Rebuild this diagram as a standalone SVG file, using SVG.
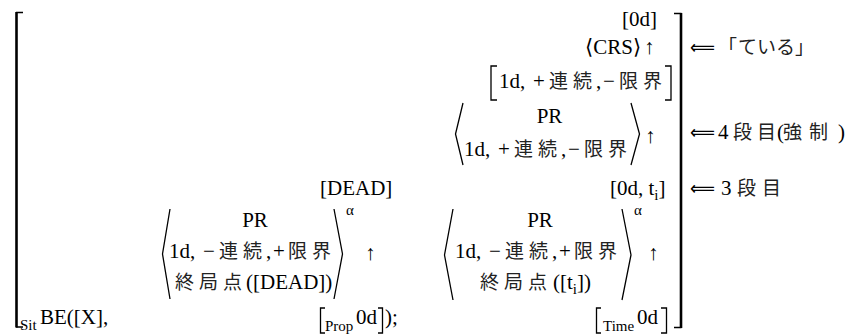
<svg xmlns="http://www.w3.org/2000/svg" width="852" height="336" viewBox="0 0 852 336">
<style>
.t{font-family:"Liberation Serif","DejaVu Serif",serif;font-size:21px;fill:#000}
.j{font-family:"Noto Sans CJK JP","Noto Sans CJK SC",sans-serif;font-size:19px;fill:#222}
.s{font-size:15px}
.a{font-family:"DejaVu Sans",sans-serif;font-size:20px;fill:#000}
.d{fill:none;stroke:#000;stroke-width:1.3}
.b{fill:none;stroke:#000;stroke-width:2.6}
.k{fill:none;stroke:#000;stroke-width:1.4}
</style>
<rect width="852" height="336" fill="#fff"/>

<g id="outer-brackets">
<path class="b" d="M16.5,12 V327.5"/>
<path class="k" d="M16,12.5 H23 M16,327 H23"/>
<path class="b" d="M681,13 V328"/>
<path class="k" d="M674,13.5 H681.5 M674,327.5 H681.5"/>
</g>

<g id="row-0d">
<text class="t" x="622" y="26">[0d]</text>
</g>

<g id="row-crs">
<text class="t" x="585" y="54">⟨CRS⟩</text>
<text class="t" x="644" y="54">↑</text>
</g>

<g id="row-1d-bracket">
<path class="d" d="M497,66 H491 V100 H497"/>
<text class="t" y="88"><tspan x="499">1d,</tspan><tspan x="533">+</tspan><tspan class="j" x="549 573">連続</tspan><tspan x="596">,</tspan><tspan x="603">−</tspan><tspan class="j" x="619 643">限界</tspan></text>
<path class="d" d="M665,66 H671 V100 H665"/>
</g>

<g id="group-pr-upper">
<path class="d" d="M463,103 L455.5,134 L463,165"/>
<text class="t" x="549.5" y="123" text-anchor="middle">PR</text>
<text class="t" y="156"><tspan x="464">1d,</tspan><tspan x="498">+</tspan><tspan class="j" x="514 538">連続</tspan><tspan x="561">,</tspan><tspan x="568">−</tspan><tspan class="j" x="584 608">限界</tspan></text>
<path class="d" d="M631,103 L639.5,134 L631,165"/>
<text class="t" x="645" y="143">↑</text>
</g>

<g id="notes">
<text class="a" x="690" y="54" textLength="25" lengthAdjust="spacingAndGlyphs">⟸</text>
<text class="j" x="718 738 757 776 795" y="54">「ている」</text>
<text class="a" x="690" y="139" textLength="25" lengthAdjust="spacingAndGlyphs">⟸</text>
<text class="t" x="718" y="139">4</text>
<text class="j" x="733 757" y="139">段目</text>
<text class="t" x="777" y="139">(</text>
<text class="j" x="783 809" y="139">強制</text>
<text class="t" x="838" y="139">)</text>
<text class="a" x="690" y="195" textLength="25" lengthAdjust="spacingAndGlyphs">⟸</text>
<text class="t" x="721" y="195">3</text>
<text class="j" x="737 762" y="195">段目</text>
</g>

<g id="row-dead">
<text class="t" x="320" y="195">[DEAD]</text>
</g>

<g id="row-0d-ti">
<text class="t" x="610" y="195">[0d, t<tspan class="s" dy="5">i</tspan><tspan dy="-5">]</tspan></text>
</g>

<g id="group-pr-left">
<path class="d" d="M170,209 L162.5,254 L170,299"/>
<text class="t" x="255" y="227" text-anchor="middle">PR</text>
<text class="t" y="258"><tspan x="169">1d,</tspan><tspan x="203">−</tspan><tspan class="j" x="219 243">連続</tspan><tspan x="266">,</tspan><tspan x="273">+</tspan><tspan class="j" x="288 312">限界</tspan></text>
<text class="j" x="175 199 223" y="289">終局点</text>
<text class="t" x="246" y="289">([DEAD])</text>
<path class="d" d="M334,209 L342.5,254 L334,299"/>
<text class="t s" x="346" y="215">α</text>
<text class="t" x="365" y="260">↑</text>
</g>

<g id="group-pr-right">
<path class="d" d="M453,209 L444.5,255 L453,300"/>
<text class="t" x="540" y="227" text-anchor="middle">PR</text>
<text class="t" y="258"><tspan x="455">1d,</tspan><tspan x="489">−</tspan><tspan class="j" x="505 529">連続</tspan><tspan x="552">,</tspan><tspan x="559">+</tspan><tspan class="j" x="574 598">限界</tspan></text>
<text class="j" x="480 504 528" y="289">終局点</text>
<text class="t" x="553" y="289">([t<tspan class="s" dy="5">i</tspan><tspan dy="-5">])</tspan></text>
<path class="d" d="M622,209 L631,255 L622,300"/>
<text class="t s" x="634" y="215">α</text>
<text class="t" x="648" y="260">↑</text>
</g>

<g id="row-bottom">
<text class="t s" x="20" y="330">Sit</text>
<text class="t" x="40" y="324">BE([X],</text>
<path class="d" d="M325,308 H320.5 V333 H325"/>
<text class="t s" x="325" y="331">Prop</text>
<text class="t" x="356" y="324">0d</text>
<path class="d" d="M378,308 H382.5 V333 H378"/>
<text class="t" x="385" y="324">);</text>
<path class="d" d="M601,308 H596.5 V333 H601"/>
<text class="t s" x="603" y="331">Time</text>
<text class="t" x="637" y="324">0d</text>
<path class="d" d="M661,308 H666.5 V333 H661"/>
</g>
</svg>
